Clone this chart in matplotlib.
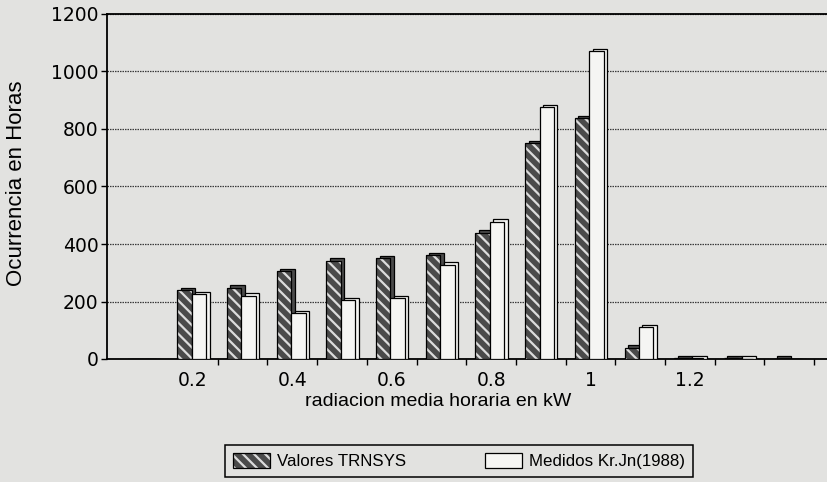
import matplotlib
matplotlib.use("Agg")
import matplotlib.pyplot as plt
from matplotlib.patches import Patch
from matplotlib.legend_handler import HandlerTuple
import numpy as np

# data
categorias = [0.1, 0.2, 0.3, 0.4, 0.5, 0.6, 0.7, 0.8, 0.9, 1.0, 1.1, 1.2, 1.3, 1.4]
trnsys = [0, 240, 248, 305, 342, 350, 362, 440, 750, 838, 40, 4, 2, 1]
medidos = [0, 226, 220, 160, 205, 212, 328, 478, 875, 1070, 112, 3, 1, 0]
etiquetas_x = ["0.2", "0.4", "0.6", "0.8", "1", "1.2"]
yticks = [0, 200, 400, 600, 800, 1000, 1200]

plt.rcParams['font.family'] = ['Liberation Sans', 'DejaVu Sans']
plt.rcParams['hatch.linewidth'] = 1.6

fondo = '#e2e2e0'
oscuro = '#4a4a4a'
blanco = '#f5f5f3'

fig = plt.figure(figsize=(8.28, 4.82), dpi=100, facecolor=fondo)
ax = fig.add_axes([107/828, 1-359/482, (828-107)/828, (359-14)/482])
ax.set_facecolor(fondo)

x = np.arange(len(categorias))
ancho = 0.29
dx, dy = 0.07, 8  # small 3D depth offset

t = np.array(trnsys, dtype=float)
m = np.array(medidos, dtype=float)
t_atras = np.where(t > 0, t + dy, 0)
m_atras = np.where(m > 0, m + dy, 0)

# hatched series (TRNSYS)
xh = x - 0.17
ax.bar(xh + dx, t_atras, ancho, color=oscuro, edgecolor='black', linewidth=0.9, zorder=2)
ax.bar(xh, t, ancho, color=oscuro, edgecolor='#dcdcdc', hatch='\\\\\\', linewidth=0, zorder=3)
ax.bar(xh, t, ancho, fill=False, edgecolor='black', linewidth=0.9, zorder=4)

# white series (measured)
xm = x + 0.12
ax.bar(xm + dx, m_atras, ancho, color=blanco, edgecolor='black', linewidth=0.9, zorder=5)
ax.bar(xm, m, ancho, color=blanco, edgecolor='black', linewidth=0.9, zorder=6)

ax.set_xlim(-0.73, 13.78)
ax.set_ylim(0, 1200)

# ticks at category boundaries, labels at every second category
ax.set_xticks(np.arange(1.5, 14, 1.0))
ax.set_xticklabels([])
ax.set_xticks(x[1:12:2], minor=True)
ax.set_xticklabels(etiquetas_x, minor=True, fontsize=13.5, family='DejaVu Sans')
ax.tick_params(axis='x', which='major', direction='out', length=4, width=1, color='black')
ax.tick_params(axis='x', which='minor', length=0, pad=9)

ax.set_yticks(yticks)
ax.set_yticklabels([str(v) for v in yticks], fontsize=13.5, family='DejaVu Sans')
ax.tick_params(axis='y', direction='out', length=4, width=1, pad=2)

ax.yaxis.grid(True, color='#3a3a3a', linestyle=(0, (1.2, 0.8)), linewidth=0.9, zorder=1)
ax.set_axisbelow(True)

for lado in ['left', 'bottom', 'top']:
    ax.spines[lado].set_color('black')
    ax.spines[lado].set_linewidth(1.3)
ax.spines['right'].set_visible(False)

fig.text(17/828, 1-183/482, "Ocurrencia en Horas", rotation=90, ha='center', va='center', fontsize=16)
fig.text(438/828, 1-401/482, "radiacion media horaria en kW", ha='center', va='center', fontsize=14)

h1 = (Patch(facecolor=oscuro, edgecolor='#dcdcdc', hatch='\\\\\\', linewidth=0),
      Patch(fill=False, edgecolor='black', linewidth=0.9))
h2 = Patch(facecolor=blanco, edgecolor='black', linewidth=0.9)
leg = fig.legend([h1, h2], ["Valores TRNSYS", "Medidos Kr.Jn(1988)"],
                 handler_map={tuple: HandlerTuple(ndivide=1, pad=0)},
                 loc='center', bbox_to_anchor=(459/828, 1-461/482), ncol=2,
                 fancybox=False, edgecolor='black', facecolor=fondo, framealpha=1,
                 prop={'size': 12.2},
                 handlelength=2.2, handleheight=1.0, columnspacing=4.6, handletextpad=0.45,
                 borderpad=0.45, borderaxespad=0)
leg.get_frame().set_linewidth(1.1)

fig.savefig("out.png", dpi=100, facecolor=fondo)
